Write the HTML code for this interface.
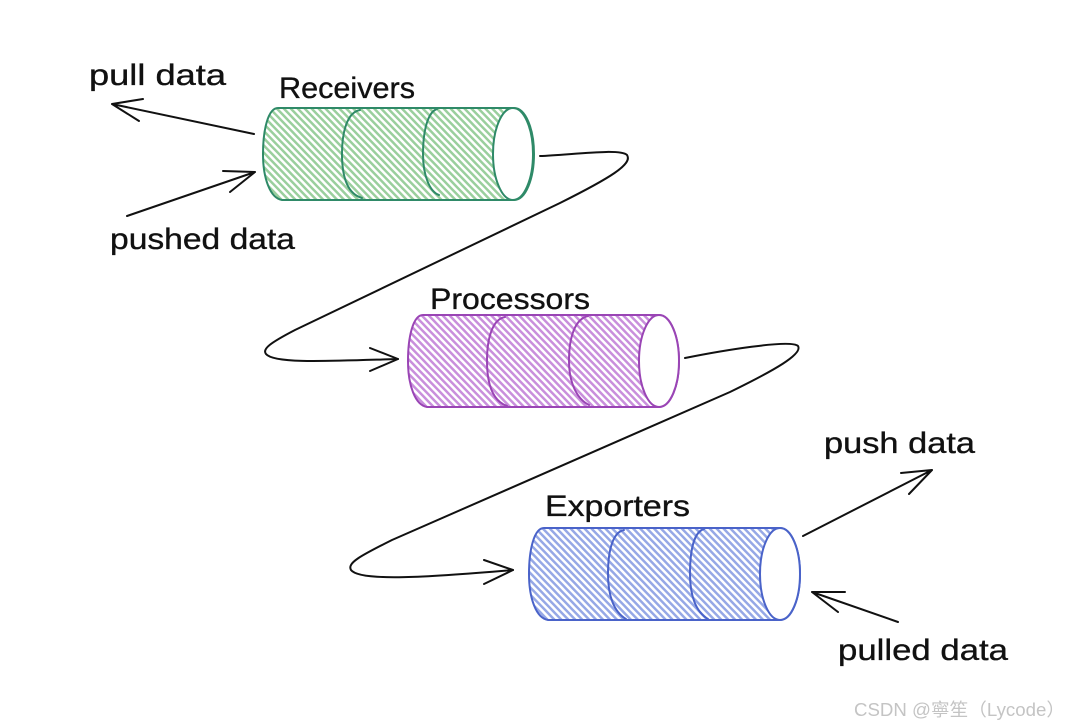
<!DOCTYPE html>
<html>
<head>
<meta charset="utf-8">
<style>
html,body{margin:0;padding:0;background:#fff;width:1080px;height:726px;overflow:hidden}
svg{display:block;filter:blur(.35px)}
text{font-family:"Liberation Sans","Noto Sans CJK SC",sans-serif;fill:#111;font-size:30px;stroke:#111;stroke-width:.35px}
.c{fill:none;stroke:#111;stroke-width:2;stroke-linecap:round;stroke-linejoin:round}
</style>
</head>
<body>
<svg width="1080" height="726" viewBox="0 0 1080 726" xmlns="http://www.w3.org/2000/svg">
<defs>
<pattern id="hg" width="5" height="5" patternUnits="userSpaceOnUse" patternTransform="rotate(46)">
<rect width="5" height="5" fill="#fff"/><rect width="5" height="2.5" fill="#9acf9d"/>
</pattern>
<pattern id="hp" width="5" height="5" patternUnits="userSpaceOnUse" patternTransform="rotate(46)">
<rect width="5" height="5" fill="#fff"/><rect width="5" height="2.5" fill="#c98fdc"/>
</pattern>
<pattern id="hb" width="5" height="5" patternUnits="userSpaceOnUse" patternTransform="rotate(46)">
<rect width="5" height="5" fill="#fff"/><rect width="5" height="2.5" fill="#96a8e6"/>
</pattern>
</defs>

<!-- Receivers -->
<g fill="none" stroke="#2f8a68" stroke-width="2" stroke-linecap="round">
<path fill="url(#hg)" stroke="none" d="M278 108H514C526 108 534 130 534 154C534 178 526 200 514 200H282C270 198 263 178 263 154C263 130 268 108 278 108Z"/>
<path d="M278 108H514C526 108 534 130 534 154C534 178 526 200 514 200H282C270 198 263 178 263 154C263 130 268 108 278 108Z"/>
<path d="M360 110C348 112 342 130 342 154C342 178 348 194 362 198"/>
<path d="M437 109C428 112 423 130 423 154C423 176 430 192 439 195"/>
<ellipse cx="513" cy="154" rx="20" ry="46" fill="#fff"/>
</g>

<!-- Processors -->
<g fill="none" stroke="#9a45b5" stroke-width="2" stroke-linecap="round" transform="translate(145 207)">
<path fill="url(#hp)" stroke="none" d="M278 108H514C526 108 534 130 534 154C534 178 526 200 514 200H282C270 198 263 178 263 154C263 130 268 108 278 108Z"/>
<path d="M278 108H514C526 108 534 130 534 154C534 178 526 200 514 200H282C270 198 263 178 263 154C263 130 268 108 278 108Z"/>
<path d="M360 110C348 112 342 130 342 154C342 178 348 194 362 199"/>
<path d="M443 109C430 112 424 130 424 154C424 176 432 192 444 198"/>
<ellipse cx="514" cy="154" rx="20" ry="46" fill="#fff"/>
</g>

<!-- Exporters -->
<g fill="none" stroke="#4a63c9" stroke-width="2" stroke-linecap="round" transform="translate(266 420)">
<path fill="url(#hb)" stroke="none" d="M278 108H514C526 108 534 130 534 154C534 178 526 200 514 200H282C270 198 263 178 263 154C263 130 268 108 278 108Z"/>
<path d="M278 108H514C526 108 534 130 534 154C534 178 526 200 514 200H282C270 198 263 178 263 154C263 130 268 108 278 108Z"/>
<path d="M358 110C347 112 342 130 342 154C342 176 348 192 360 199"/>
<path d="M438 109C428 112 424 130 424 154C424 176 430 192 442 199"/>
<ellipse cx="514" cy="154" rx="20" ry="46" fill="#fff"/>
</g>

<!-- Connectors -->
<path class="c" d="M540 156C570 155 620 148 627 155C633 164 610 178 560 203L295 330C270 343 262 349 266 354C274 364 330 361 398 359"/>
<path class="c" d="M370 348L398 359L370 371"/>
<path class="c" d="M685 358C720 351 790 339 798 346C803 354 775 370 730 392L392 540C360 556 347 563 351 570C360 582 430 577 513 570"/>
<path class="c" d="M484 560L513 570L484 584"/>
<path class="c" d="M254 134L112 104M143 99L112 104L139 121"/>
<path class="c" d="M127 216L255 172M223 171L255 172L230 192"/>
<path class="c" d="M803 536L932 470M901 473L932 470L909 494"/>
<path class="c" d="M898 622L812 592M845 592L812 592L838 612"/>

<!-- Labels -->
<text x="89" y="85" textLength="137" lengthAdjust="spacingAndGlyphs">pull data</text>
<text x="279" y="98" textLength="136" lengthAdjust="spacingAndGlyphs">Receivers</text>
<text x="110" y="249" textLength="185" lengthAdjust="spacingAndGlyphs">pushed data</text>
<text x="430" y="309" textLength="160" lengthAdjust="spacingAndGlyphs">Processors</text>
<text x="545" y="516" textLength="145" lengthAdjust="spacingAndGlyphs">Exporters</text>
<text x="824" y="453" textLength="151" lengthAdjust="spacingAndGlyphs">push data</text>
<text x="838" y="660" textLength="170" lengthAdjust="spacingAndGlyphs">pulled data</text>
<text x="854" y="716" textLength="211" lengthAdjust="spacingAndGlyphs" style="font-size:18px;fill:#c4c4c4;stroke:none">CSDN @寧笙（Lycode）</text>
</svg>
</body>
</html>
